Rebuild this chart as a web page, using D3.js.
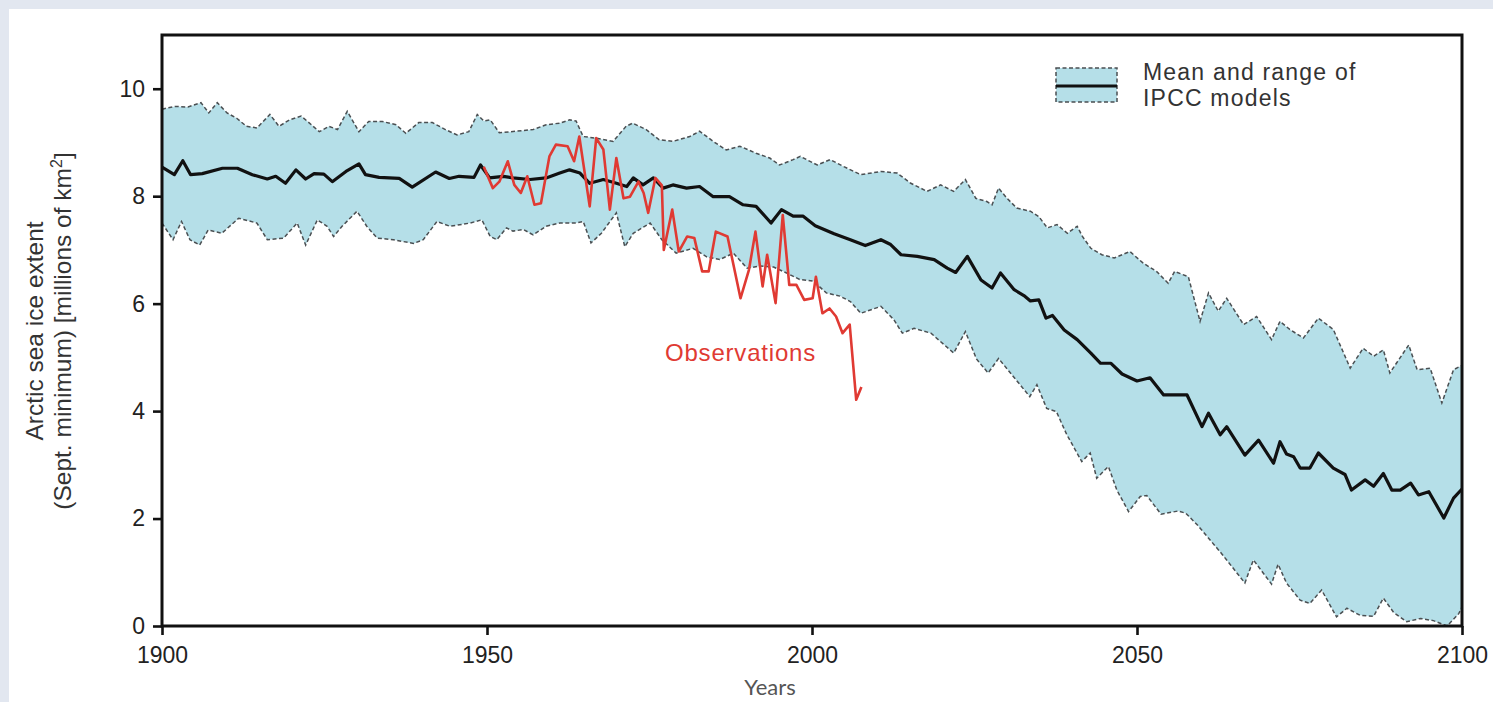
<!DOCTYPE html>
<html>
<head>
<meta charset="utf-8">
<script src="https://cdn.jsdelivr.net/npm/d3@7"></script>
<style>
  html, body { margin: 0; padding: 0; background: #e2e7f0; }
  svg { display: block; }
  text { font-family: "Liberation Sans", Arial, Helvetica, sans-serif; }
</style>
</head>
<body>
<svg id="chart" width="1493" height="702"></svg>
<script>
// ---- Data ----
const xTicks = [1900, 1950, 2000, 2050, 2100];
const yTicks = [0, 2, 4, 6, 8, 10];

const upperYears = [1900,1902,1904,1906,1907.2,1908.5,1910,1911.5,1913,1914.6,1916.6,1918,1919.6,1921.4,1922.6,1924.2,1925.7,1927,1928.5,1930.3,1931.8,1933.9,1936,1937.5,1939.5,1941.6,1943.6,1945.4,1947.2,1948.5,1949.5,1950.5,1951.9,1954.5,1957.1,1959.1,1961.2,1962.7,1963.7,1964.8,1966.8,1969.4,1971.4,1972.4,1974.5,1976.5,1978.6,1981.2,1982.7,1984.8,1986.8,1988.9,1991.4,1993.5,1995,1997.1,1998.2,2000.8,2002.8,2004.9,2007.5,2010.6,2013.1,2015.2,2017.7,2019.8,2021.8,2023.6,2025.2,2026.9,2027.7,2028.7,2030,2031.5,2033.6,2034.9,2036.2,2037.7,2039.3,2040.8,2041.6,2042.9,2044.6,2046.5,2048.9,2051,2053,2054.8,2055.8,2057.9,2059.7,2061,2062.5,2063.8,2066.4,2068.4,2070.7,2072,2073.5,2075.6,2077.9,2080.2,2082.8,2084.8,2086.4,2087.9,2088.9,2091.8,2093.1,2095.1,2096.9,2098.7,2100];
const upperValues = [9.62,9.67,9.66,9.74,9.55,9.74,9.55,9.45,9.30,9.27,9.52,9.30,9.42,9.49,9.37,9.20,9.30,9.24,9.58,9.20,9.39,9.39,9.33,9.17,9.37,9.37,9.24,9.14,9.20,9.52,9.40,9.42,9.18,9.21,9.24,9.33,9.36,9.42,9.40,9.11,9.08,9.02,9.30,9.36,9.24,9.05,9.02,9.11,9.21,9.02,8.86,8.93,8.80,8.71,8.58,8.68,8.74,8.58,8.68,8.55,8.40,8.46,8.43,8.24,8.09,8.21,8.09,8.31,7.96,7.90,7.84,8.15,7.96,7.78,7.72,7.62,7.41,7.47,7.31,7.44,7.25,7.03,6.91,6.85,6.97,6.75,6.60,6.38,6.60,6.50,5.67,6.20,5.86,6.10,5.61,5.76,5.33,5.67,5.52,5.36,5.73,5.52,4.80,5.17,5.02,5.14,4.71,5.23,4.77,4.80,4.15,4.77,4.85];

const lowerYears = [1900,1901.7,1903,1904.3,1905.8,1907.1,1909.2,1911.8,1914.6,1916.2,1918.7,1920.8,1922.1,1923.9,1925.4,1926.4,1927.7,1930,1931.5,1933.1,1935.6,1938.7,1940.2,1942.3,1944.3,1947.4,1949.2,1950.5,1951.5,1953,1954,1955.6,1957.1,1959.1,1961.2,1963.7,1964.8,1966,1967.6,1969.9,1971.2,1972.5,1975.1,1976.9,1979.1,1981.7,1983.8,1985.8,1987.9,1990,1992,1994.1,1996.1,1998.1,2000.2,2002.2,2004.3,2005.9,2007.5,2010.6,2012.6,2013.9,2015.7,2018.3,2021.8,2023.6,2025.3,2027.1,2028.7,2031,2033.5,2034.6,2036.1,2037.6,2039.2,2040.5,2041.5,2042.8,2043.8,2045.6,2046.9,2048.7,2050.5,2051.5,2053.7,2056.3,2057.5,2059.3,2063,2066.6,2067.9,2070.7,2071.7,2073,2075.1,2076.6,2078.4,2080.7,2082.3,2084.3,2086.4,2087.9,2089.5,2091.5,2093.6,2095.6,2097.7,2099.5,2100];
const lowerValues = [7.50,7.19,7.53,7.19,7.09,7.37,7.31,7.59,7.50,7.19,7.22,7.50,7.09,7.56,7.44,7.25,7.44,7.72,7.44,7.22,7.19,7.12,7.19,7.53,7.44,7.50,7.56,7.25,7.19,7.41,7.35,7.38,7.28,7.44,7.50,7.50,7.53,7.13,7.31,7.69,7.06,7.31,7.50,7.19,6.94,7.03,6.87,6.82,6.94,6.66,6.70,6.68,6.57,6.45,6.42,6.20,6.14,6.04,5.82,5.95,5.70,5.45,5.54,5.45,5.08,5.48,4.97,4.71,4.98,4.64,4.27,4.49,4.05,3.99,3.56,3.28,3.06,3.22,2.75,2.97,2.53,2.13,2.41,2.43,2.08,2.14,2.10,1.88,1.35,0.80,1.23,0.78,1.15,0.80,0.48,0.42,0.67,0.17,0.33,0.20,0.18,0.52,0.25,0.08,0.14,0.10,0.00,0.23,0.35];

const meanYears = [1900,1901.9,1903.2,1904.4,1906.2,1909.3,1911.6,1913.9,1916.2,1917.5,1919,1920.6,1922.1,1923.4,1924.9,1926.2,1928.3,1930.3,1931.3,1933.4,1936.5,1938.5,1942.1,1944.2,1945.7,1948,1949,1950.4,1952.5,1954,1956.6,1959.1,1961.2,1962.7,1964.3,1965.8,1967.9,1969.9,1971.5,1972.5,1974,1975.6,1977.1,1978.6,1980.7,1982.7,1984.8,1987.3,1989.4,1991.4,1993.7,1995.3,1997.1,1998.6,2000.5,2003.4,2005.9,2008.2,2010.6,2012.1,2013.7,2016.2,2018.8,2020.8,2022.1,2023.9,2026,2027.7,2029,2031.1,2032.6,2033.6,2034.9,2036,2037,2038.8,2040.8,2042.9,2044.4,2046,2047.7,2050,2052,2054.1,2057.7,2060,2061,2062.8,2063.8,2066.6,2068.7,2071,2072,2073,2074.1,2075.1,2076.6,2077.9,2080.2,2082,2083,2085.1,2086.4,2087.9,2089.2,2090.5,2092.1,2093.3,2094.9,2097.2,2098.7,2100];
const meanValues = [8.54,8.40,8.66,8.40,8.42,8.52,8.52,8.40,8.32,8.37,8.24,8.49,8.32,8.42,8.41,8.27,8.46,8.60,8.40,8.35,8.33,8.17,8.45,8.33,8.37,8.35,8.58,8.34,8.37,8.34,8.31,8.34,8.43,8.49,8.43,8.24,8.31,8.24,8.18,8.34,8.21,8.34,8.15,8.21,8.15,8.18,7.99,7.99,7.84,7.81,7.50,7.75,7.63,7.63,7.45,7.30,7.19,7.08,7.19,7.10,6.91,6.88,6.82,6.66,6.58,6.88,6.44,6.29,6.57,6.26,6.15,6.05,6.07,5.73,5.78,5.51,5.33,5.08,4.89,4.89,4.69,4.56,4.62,4.30,4.30,3.71,3.96,3.56,3.71,3.18,3.46,3.03,3.43,3.20,3.15,2.94,2.94,3.22,2.94,2.82,2.53,2.72,2.60,2.84,2.53,2.53,2.66,2.44,2.50,2.01,2.38,2.55];

const obsYears = [1949.5,1950.9,1951.9,1953.2,1954.2,1955.2,1956.2,1957.3,1958.3,1959.6,1960.6,1962.4,1963.4,1964.2,1965.8,1966.8,1967.9,1968.9,1969.9,1971,1972,1973.3,1974.1,1974.8,1975.9,1976.9,1977.2,1978.5,1979.5,1980.8,1981.9,1983.1,1984.1,1985.2,1987,1989,1990.3,1991.3,1992.4,1993.1,1994.4,1995.5,1996.5,1997.6,1998.8,2000.1,2000.6,2001.6,2002.7,2003.7,2004.7,2005.8,2006.8,2007.6];
const obsValues = [8.55,8.15,8.27,8.65,8.21,8.06,8.37,7.84,7.87,8.74,8.96,8.93,8.65,9.11,7.81,9.08,8.87,7.75,8.71,7.96,7.99,8.27,8.06,7.69,8.34,8.20,7.00,7.75,6.97,7.25,7.22,6.60,6.60,7.34,7.25,6.10,6.63,7.34,6.32,6.91,6.01,7.65,6.35,6.35,6.07,6.10,6.50,5.82,5.91,5.76,5.45,5.61,4.21,4.45];

const legendLines = ["Mean and range of", "IPCC models"];
const obsLabel = "Observations";
const yTitleLines = ["Arctic sea ice extent", "(Sept. minimum) [millions of km", "2", "]"];
const xTitle = "Years";

// ---- Layout ----
const W = 1493, H = 702;
const plot = { left: 162, right: 1462, top: 35, bottom: 626 };
const bandFill = "#b5dfe8";
const obsColor = "#e03a33";

const svg = d3.select("#chart");
svg.append("rect").attr("x", 9).attr("y", 9).attr("width", W - 9).attr("height", H - 9).attr("fill", "#ffffff");

const x = d3.scaleLinear().domain([1900, 2100]).range([plot.left, plot.right]);
const y = d3.scaleLinear().domain([0, 11]).range([plot.bottom, plot.top]);

const zip = (xs, vs) => xs.map((t, i) => [t, vs[i]]);
const upper = zip(upperYears, upperValues);
const lower = zip(lowerYears, lowerValues);
const mean = zip(meanYears, meanValues);
const obs = zip(obsYears, obsValues);

svg.append("clipPath").attr("id", "clip").append("rect")
  .attr("x", plot.left).attr("y", plot.top)
  .attr("width", plot.right - plot.left).attr("height", plot.bottom - plot.top);

const line = d3.line().x(d => x(d[0])).y(d => y(d[1]));
const g = svg.append("g").attr("clip-path", "url(#clip)");

// band polygon
g.append("path")
  .attr("d", line(upper.concat(lower.slice().reverse())) + "Z")
  .attr("fill", bandFill).attr("stroke", "none");

[upper, lower].forEach(s => {
  g.append("path").attr("d", line(s))
    .attr("fill", "none").attr("stroke", "#4a4f52")
    .attr("stroke-width", 1.5).attr("stroke-dasharray", "4,2.5");
});

g.append("path").attr("d", line(mean))
  .attr("fill", "none").attr("stroke", "#111").attr("stroke-width", 3.2)
  .attr("stroke-linejoin", "round");

g.append("path").attr("d", line(obs))
  .attr("fill", "none").attr("stroke", obsColor).attr("stroke-width", 2.6)
  .attr("stroke-linejoin", "round");

// frame
svg.append("rect")
  .attr("x", plot.left).attr("y", plot.top)
  .attr("width", plot.right - plot.left).attr("height", plot.bottom - plot.top)
  .attr("fill", "none").attr("stroke", "#111").attr("stroke-width", 3);

// axes
const xAxis = svg.append("g").attr("transform", `translate(0,${plot.bottom})`)
  .call(d3.axisBottom(x).tickValues(xTicks).tickFormat(d3.format("d")).tickSize(9).tickPadding(12));
const yAxis = svg.append("g").attr("transform", `translate(${plot.left},0)`)
  .call(d3.axisLeft(y).tickValues(yTicks).tickSize(9).tickPadding(8));
[xAxis, yAxis].forEach(a => {
  a.select(".domain").remove();
  a.selectAll(".tick line").attr("stroke", "#111").attr("stroke-width", 2.6);
  a.selectAll(".tick text").attr("fill", "#222").style("font-size", "23px")
    .style("font-family", '"Liberation Sans", Arial, sans-serif');
});

// legend
const lg = svg.append("g");
lg.append("rect").attr("x", 1056).attr("y", 68).attr("width", 61).attr("height", 34)
  .attr("fill", bandFill).attr("stroke", "#4a4f52").attr("stroke-width", 1.5)
  .attr("stroke-dasharray", "4,2.5");
lg.append("line").attr("x1", 1056).attr("x2", 1117).attr("y1", 86).attr("y2", 86)
  .attr("stroke", "#111").attr("stroke-width", 3.2);
legendLines.forEach((t, i) => {
  lg.append("text").attr("x", 1143).attr("y", 80 + i * 26)
    .attr("fill", "#333").style("font-size", "23px").style("letter-spacing", "1.2px").text(t);
});

// observations label
svg.append("text").attr("x", 665).attr("y", 361).attr("fill", obsColor)
  .style("font-size", "24px").style("letter-spacing", "0.8px").text(obsLabel);

// y title
const yt = svg.append("text").attr("transform", "translate(43,331) rotate(-90)")
  .attr("text-anchor", "middle").attr("fill", "#333").style("font-size", "24.5px");
yt.append("tspan").attr("x", 0).attr("y", 0).text(yTitleLines[0]);
yt.append("tspan").attr("x", 0).attr("y", 28).text(yTitleLines[1]);
yt.append("tspan").attr("dy", -9).style("font-size", "16px").text(yTitleLines[2]);
yt.append("tspan").attr("dy", 9).text(yTitleLines[3]);

// x title
svg.append("text").attr("x", 770).attr("y", 695).attr("text-anchor", "middle")
  .attr("fill", "#555").style("font-family", "Lato, 'Open Sans', sans-serif")
  .style("font-size", "22px").text(xTitle);
</script>
</body>
</html>
